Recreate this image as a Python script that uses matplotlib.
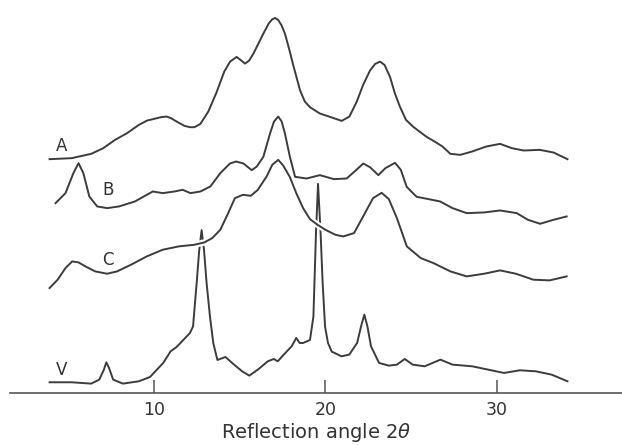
import numpy as np
import matplotlib
matplotlib.use("Agg")
import matplotlib.pyplot as plt
import matplotlib.patheffects as pe

plt.rcParams.update({
    "font.family": ["DejaVu Sans"],
    "font.size": 12,
})

# --- X-ray diffraction patterns (relative intensity, arbitrary units) ---
two_theta_A = [3.91, 5.19, 6.34, 7.04, 7.73, 8.43, 9.12, 9.6, 9.93, 10.4, 10.74, 11.0, 11.32,
               11.78, 12.1, 12.36, 12.71, 13.17, 13.63, 14.10, 14.44, 14.82, 15.05, 15.31, 15.55,
               15.8, 16.1, 16.38, 16.7, 16.9, 17.06, 17.25, 17.45, 17.64, 17.9, 18.13, 18.52,
               18.8, 19.1, 19.68, 20.27, 20.95, 21.4, 21.83, 22.2, 22.6, 22.9, 23.19, 23.45,
               23.77, 24.05, 24.35, 24.7, 25.13, 25.9, 26.37, 26.83, 27.29, 27.87, 28.56, 29.38,
               30.19, 30.88, 31.57, 32.50, 33.31, 34.12]
intensity_A = [2, 5, 18, 35, 60, 80, 105, 118, 122, 128, 130, 125, 115,
               102, 98, 98, 108, 145, 200, 265, 295, 309, 300, 289, 298,
               319, 350, 379, 410, 422, 426, 420, 403, 379, 330, 283, 209,
               175, 158, 139, 129, 117, 130, 175, 225, 268, 288, 295, 285,
               249, 200, 159, 120, 99, 69, 55, 40, 18, 15, 25, 40,
               48, 35, 28, 30, 22, 2]

two_theta_B = [4.26, 4.84, 5.30, 5.60, 5.88, 6.23, 6.69, 7.27, 7.96, 8.89, 9.58, 9.93, 10.51,
               11.20, 11.67, 12.13, 12.71, 13.29, 13.87, 14.43, 14.79, 15.22, 15.7, 16.0, 16.38,
               16.77, 17.0, 17.25, 17.45, 17.64, 17.93, 18.23, 18.9, 19.68, 20.5, 21.24, 21.7,
               22.21, 22.6, 23.09, 23.5, 24.06, 24.4, 24.74, 25.32, 26.02, 26.69, 27.41, 28.24,
               29.26, 30.19, 31.16, 31.81, 32.52, 33.31, 34.07]
intensity_B = [70, 100, 160, 190, 160, 90, 60, 55, 60, 75, 95, 105, 100,
               105, 110, 100, 105, 120, 160, 189, 195, 189, 169, 180, 209,
               279, 315, 330, 315, 279, 209, 149, 144, 154, 142, 144, 165,
               189, 178, 154, 175, 191, 170, 119, 89, 82, 75, 55, 40,
               42, 48, 40, 20, 8, 20, 30]

two_theta_C = [3.91, 4.38, 4.84, 5.23, 5.60, 6.0, 6.57, 7.27, 7.85, 8.66, 9.58, 10.51, 11.44,
               12.36, 12.94, 13.40, 13.87, 14.33, 14.72, 15.19, 15.65, 16.06, 16.57, 16.9, 17.25,
               17.55, 17.93, 18.3, 18.7, 19.1, 19.54, 20.0, 20.58, 21.04, 21.67, 22.20, 22.78,
               23.28, 23.70, 24.17, 24.75, 25.56, 26.30, 27.29, 28.24, 29.26, 30.19, 31.11, 32.13,
               33.08, 34.07]
intensity_C = [5, 30, 65, 85, 82, 70, 55, 48, 55, 75, 100, 120, 130,
               135, 142, 155, 180, 230, 275, 285, 282, 300, 340, 375, 390,
               372, 338, 290, 245, 212, 195, 180, 165, 160, 170, 220, 275,
               291, 272, 215, 130, 95, 80, 55, 40, 48, 58, 48, 30,
               28, 40]

two_theta_V = [3.91, 5.19, 6.34, 6.81, 7.08, 7.22, 7.38, 7.62, 8.19, 9.12, 9.77, 10.54, 10.97,
               11.32, 11.71, 12.1, 12.28, 12.49, 12.64, 12.78, 12.92, 13.07, 13.27, 13.46, 13.7,
               14.17, 14.56, 15.14, 15.56, 16.06, 16.64, 16.99, 17.22, 17.57, 18.03, 18.3, 18.5,
               18.7, 19.1, 19.3, 19.39, 19.45, 19.57, 19.72, 19.84, 19.98, 20.15, 20.37, 20.66,
               20.93, 21.39, 21.85, 22.08, 22.27, 22.45, 22.66, 23.13, 23.70, 24.17, 24.63, 25.09,
               25.79, 26.71, 27.41, 28.56, 29.49, 30.42, 31.34, 32.27, 33.19, 34.12]
intensity_V = [7, 7, 3, 15, 45, 67, 50, 15, 3, 10, 23, 65, 100,
               113, 134, 155, 175, 305, 404, 464, 404, 305, 203, 125, 74,
               83, 65, 40, 27, 45, 70, 77, 70, 90, 115, 140, 125,
               125, 134, 204, 354, 455, 603, 455, 304, 174, 125, 99, 92,
               85, 90, 125, 175, 210, 175, 115, 65, 57, 60, 77, 60,
               55, 75, 60, 55, 45, 35, 43, 40, 30, 10]

labels = ["A", "B", "C", "V"]
label_pos = [(4.6, 43), (7.3, 110), (7.3, 90), (4.6, 45)]  # (2theta, height above own baseline)
offsets = [700, 500, 310, 25]

series = [(two_theta_A, intensity_A), (two_theta_B, intensity_B),
          (two_theta_C, intensity_C), (two_theta_V, intensity_V)]

LINE = "#3c3c3c"

fig = plt.figure(figsize=(6.22, 4.45), dpi=100)
ax = fig.add_axes([0.016, 0.117, 0.984, 0.883])

# draw order: V, C (with white halo so V peaks break under it), B, A
for idx in [3, 2, 1, 0]:
    x, y = series[idx]
    y = np.array(y) + offsets[idx]
    kw = {}
    if idx == 2:
        kw["path_effects"] = [pe.Stroke(linewidth=4.5, foreground="white"), pe.Normal()]
    ax.plot(x, y, color=LINE, linewidth=1.4, solid_joinstyle="round", **kw)
    lx, ly = label_pos[idx]
    ax.text(lx, ly + offsets[idx], labels[idx], ha="center", va="center",
            fontsize=12, color="#333333")

ax.set_xlim(1.6, 37.3)
ax.set_ylim(0, 1180)

for s in ["top", "right", "left"]:
    ax.spines[s].set_visible(False)
ax.spines["bottom"].set_color("#555555")
ax.spines["bottom"].set_linewidth(1.2)
ax.set_yticks([])
ax.set_xticks([10, 20, 30])
ax.tick_params(axis="x", direction="in", length=9.5, width=1.1, color="#555555",
               pad=6, labelsize=12.5, labelcolor="#333333")
ax.set_xlabel("Reflection angle 2$\\theta$", fontsize=14, color="#333333", labelpad=1)

fig.savefig("out.png", dpi=100)
